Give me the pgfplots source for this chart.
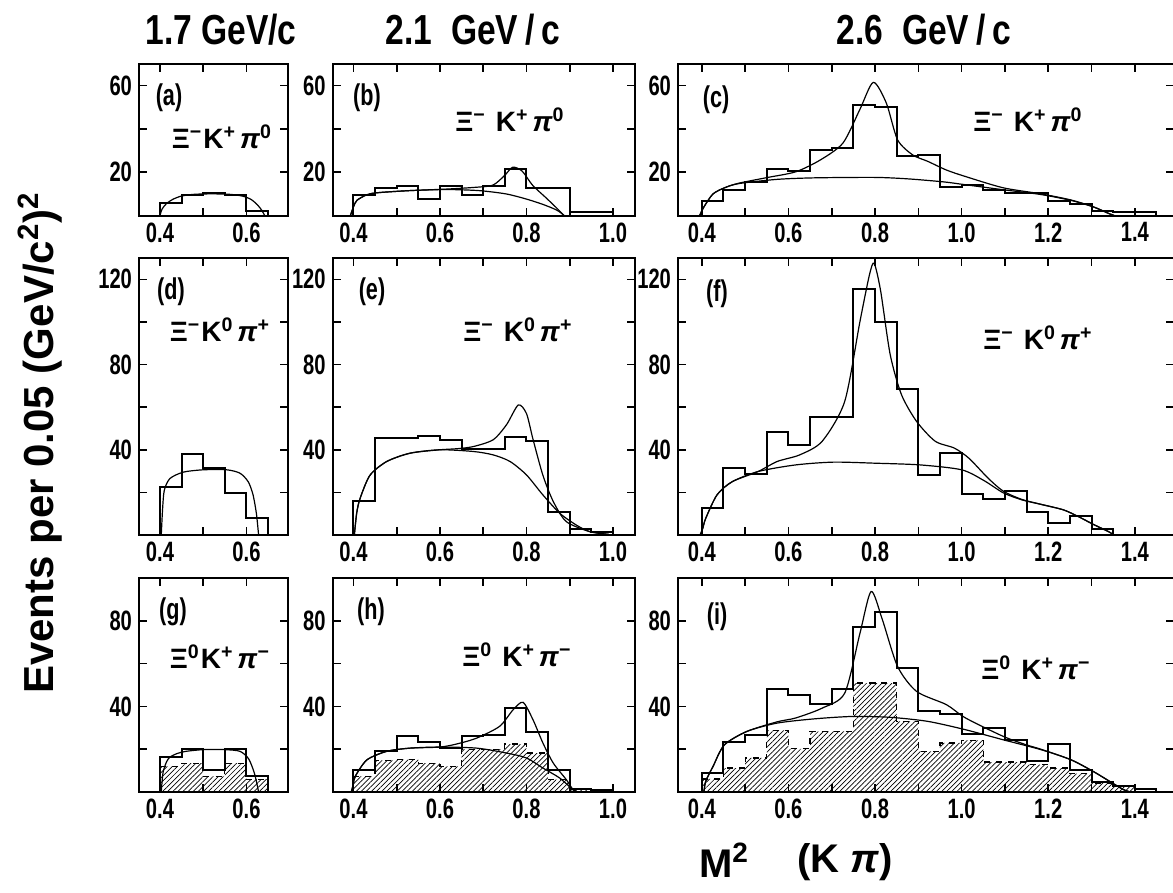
\documentclass[border=0pt]{standalone}
\usepackage{fontspec}
\setmainfont{Liberation Sans}[FakeStretch=0.8]
\newfontfamily\wide{Liberation Sans}
\newfontfamily\tickfont{Liberation Sans}[FakeStretch=0.72]
\usepackage{pgfplots}
\pgfplotsset{compat=1.18}
\usetikzlibrary{patterns.meta}

\pgfplotsset{
  panel/.style={
    scale only axis, anchor=north west, ymin=0,
    axis line style={line width=1pt},
    tick align=inside, major tick length=4pt, minor tick length=4pt,
    every tick/.append style={line width=0.8pt, black},
    xtick={0.4,0.6,...,1.41}, minor xtick={0.5,0.7,...,1.31},
    tick label style={font=\tickfont\bfseries\fontsize{14}{14}\selectfont},
    xticklabel style={/pgf/number format/.cd, fixed, fixed zerofill, precision=1},
    /pgf/number format/assume math mode=true,
  },
  col1/.style={xmin=0.3515, xmax=0.696, width=74.5pt},
  col2/.style={xmin=0.352, xmax=1.05, width=150.95pt},
  col3/.style={xmin=0.345, xmax=1.49, width=247.9pt},
  row1/.style={ymax=70, height=75.75pt, ytick={20,60}, minor ytick={40}},
  row2/.style={ymax=130, height=138.5pt, ytick={40,80,120}, minor ytick={20,60,100}},
  row3/.style={ymax=100, height=107pt, ytick={40,80}, minor ytick={20,60}},
  hist/.style={const plot, line width=1pt, black, mark=none},
  hatch/.style={const plot, draw=black, dashed, line width=0.6pt,
    pattern={Lines[angle=45,distance=1.8pt,line width=0.35pt]}, pattern color=black, mark=none},
  fit/.style={smooth, tension=0.45, line width=0.6pt, black, mark=none},
}
% reaction label: particle, charge, kaon, charge, pion, charge, gap after the first particle
\newcommand{\rx}[7]{{\wide\bfseries\fontsize{14}{14}\selectfont #1\textsuperscript{#2}\hspace{#7}#3\textsuperscript{#4}\hspace{2pt}\textit{#5}\textsuperscript{#6}}}

\begin{document}
\begin{tikzpicture}
\useasboundingbox (0,0) rectangle (586.5pt,-446.5pt);

% ---- row 1 : Xi- K+ pi0
\begin{axis}[panel, col1, row1, at={(69.5pt,-32pt)}]
\addplot[hist] coordinates {(0.40,0) (0.40,6) (0.45,9.5) (0.50,10.5) (0.55,9.5) (0.60,2) (0.65,2) (0.65,0)};
\addplot[fit] coordinates {(0.400,0) (0.405,3) (0.415,5.5) (0.43,7.5) (0.45,9) (0.48,9.8) (0.52,10) (0.56,9.8) (0.59,9) (0.61,7.5) (0.625,5) (0.635,2.5) (0.642,0)};
\end{axis}

\begin{axis}[panel, col2, row1, at={(166.35pt,-32pt)}]
\addplot[hist] coordinates {(0.40,0) (0.40,9.4) (0.45,12.5) (0.50,13.6) (0.55,7.5) (0.60,13.6) (0.65,9.4) (0.70,13.6) (0.75,21.7) (0.80,12.5) (0.85,12.5) (0.90,1.8) (0.95,1.5) (1.00,1.5) (1.00,0)};
\addplot[fit] coordinates {(0.393,0) (0.400,4) (0.408,7) (0.43,9.5) (0.454,10.5) (0.53,11.5) (0.615,12) (0.69,11.5) (0.752,10) (0.798,7.7) (0.837,5.2) (0.870,2.5) (0.887,0)};
\addplot[fit] coordinates {(0.393,0) (0.400,4) (0.408,7) (0.43,9.5) (0.454,10.5) (0.53,11.5) (0.615,12.2) (0.68,13) (0.722,14) (0.749,18.4) (0.768,22.3) (0.79,20.5) (0.814,14) (0.844,8.4) (0.867,4) (0.887,0)};
\end{axis}

\begin{axis}[panel, col3, row1, at={(339pt,-32pt)}]
\addplot[hist] coordinates {(0.40,0) (0.40,6.5) (0.45,11.7) (0.50,15.6) (0.55,21.3) (0.60,20.6) (0.65,30.4) (0.70,31.2) (0.75,51) (0.80,50.3) (0.85,27.3) (0.90,28) (0.95,13.2) (1.00,14) (1.05,11.7) (1.10,10.6) (1.15,10.6) (1.20,6.7) (1.25,5.5) (1.30,2.2) (1.35,1.5) (1.40,1.5) (1.45,1.5) (1.45,0)};
\addplot[fit] coordinates {(0.395,0) (0.405,4) (0.426,10) (0.455,13) (0.487,14.8) (0.574,16.7) (0.661,17.4) (0.8,17.6) (0.878,16.9) (0.96,15.5) (1.009,14.2) (1.096,11.9) (1.183,9.7) (1.252,7) (1.304,4) (1.339,1) (1.352,0)};
\addplot[fit] coordinates {(0.395,0) (0.405,4) (0.426,10) (0.455,13) (0.487,15) (0.55,17.5) (0.617,20.2) (0.674,25.7) (0.726,33.5) (0.765,49) (0.796,61.5) (0.826,52) (0.852,35) (0.887,28) (0.922,25) (0.965,21) (1.009,18) (1.096,12.8) (1.183,10) (1.252,7.2) (1.304,4) (1.339,1) (1.352,0)};
\end{axis}

% ---- row 2 : Xi- K0 pi+
\begin{axis}[panel, col1, row2, at={(69.5pt,-129pt)}]
\addplot[hist] coordinates {(0.40,0) (0.40,22.7) (0.45,38) (0.50,31.4) (0.55,19.6) (0.60,7.8) (0.65,7.8) (0.65,0)};
\addplot[fit] coordinates {(0.403,0) (0.406,12) (0.41,21) (0.423,26.5) (0.454,29.5) (0.5,30.6) (0.554,30.6) (0.585,29) (0.604,25) (0.615,19) (0.623,10) (0.628,0)};
\end{axis}

\begin{axis}[panel, col2, row2, at={(166.35pt,-129pt)}]
\addplot[hist] coordinates {(0.40,0) (0.40,16) (0.45,45.5) (0.50,45.5) (0.55,46.3) (0.60,44.7) (0.65,40.5) (0.70,40.5) (0.75,46) (0.80,43.9) (0.85,11) (0.90,3) (0.95,1.5) (1.00,1.5) (1.00,0)};
\addplot[fit] coordinates {(0.402,0) (0.405,6) (0.408,11) (0.415,17) (0.438,28) (0.477,34.5) (0.531,38.4) (0.6,40) (0.677,39.2) (0.723,37.6) (0.762,34.5) (0.8,28.2) (0.838,18.8) (0.877,10.2) (0.915,4.7) (0.946,1.6) (0.99,0.3)};
\addplot[fit] coordinates {(0.402,0) (0.405,6) (0.408,11) (0.415,17) (0.438,28) (0.477,34.5) (0.531,38.4) (0.6,40) (0.64,40.5) (0.677,41.5) (0.723,44.7) (0.754,51.8) (0.781,61) (0.8,57) (0.815,45) (0.838,28) (0.862,15.7) (0.892,6.3) (0.946,1.6) (0.99,0.3)};
\end{axis}

\begin{axis}[panel, col3, row2, at={(339pt,-129pt)}]
\addplot[hist] coordinates {(0.40,0) (0.40,12.9) (0.45,31.4) (0.50,28.5) (0.55,48.3) (0.60,42.4) (0.65,55.4) (0.70,55.4) (0.75,115.6) (0.80,100) (0.85,68.7) (0.90,28.2) (0.95,38.4) (1.00,19.1) (1.05,17) (1.10,20.7) (1.15,11) (1.20,5.5) (1.25,9.1) (1.30,2.8) (1.35,2.8) (1.35,0)};
\addplot[fit] coordinates {(0.396,0) (0.402,3) (0.409,7.8) (0.435,18.8) (0.47,25) (0.53,29.8) (0.617,32.9) (0.704,34.2) (0.8,33.7) (0.904,32.9) (1.0,30.6) (1.052,25.5) (1.096,19.8) (1.139,16.5) (1.183,14.4) (1.235,11.8) (1.27,8.6) (1.304,5) (1.339,1.6) (1.352,0)};
\addplot[fit] coordinates {(0.396,0) (0.402,3) (0.409,7.8) (0.435,18.8) (0.47,25) (0.53,29.8) (0.574,34.5) (0.626,37.6) (0.678,44) (0.73,62.7) (0.765,100) (0.787,122) (0.798,127.5) (0.813,114.5) (0.835,84.7) (0.861,65.9) (0.896,53.3) (0.939,44) (0.983,40.8) (1.017,36) (1.061,26.7) (1.096,20.6) (1.139,16.7) (1.183,14.4) (1.235,11.8) (1.27,8.6) (1.304,5) (1.339,1.6) (1.352,0)};
\end{axis}

% ---- row 3 : Xi0 K+ pi-
\begin{axis}[panel, col1, row3, at={(69.5pt,-289pt)}]
\addplot[hatch] coordinates {(0.40,12) (0.45,13.5) (0.50,7.3) (0.55,13.5) (0.60,6) (0.65,6)} \closedcycle;
\addplot[hist] coordinates {(0.40,0) (0.40,16.3) (0.45,20) (0.50,10.4) (0.55,20) (0.60,7.5) (0.65,7.5) (0.65,0)};
\addplot[fit] coordinates {(0.403,0) (0.407,9) (0.415,14) (0.423,16.3) (0.44,18) (0.46,19) (0.5,19.8) (0.55,19.8) (0.585,19) (0.605,15.5) (0.618,9) (0.625,3) (0.628,0)};
\end{axis}

\begin{axis}[panel, col2, row3, at={(166.35pt,-289pt)}]
\addplot[hatch] coordinates {(0.40,7.3) (0.45,14.8) (0.50,15.1) (0.55,13.5) (0.60,12) (0.65,20) (0.70,20) (0.75,22.4) (0.80,18.2) (0.85,5.8) (0.90,1) (0.95,1)} \closedcycle;
\addplot[hist] coordinates {(0.40,0) (0.40,10.4) (0.45,19.3) (0.50,26.3) (0.55,23.2) (0.60,20.5) (0.65,26.3) (0.70,26.8) (0.75,39.2) (0.80,27.9) (0.85,10.4) (0.90,1.4) (0.95,1) (1.00,1) (1.00,0)};
\addplot[fit] coordinates {(0.395,0) (0.40,4) (0.404,7.3) (0.431,15) (0.477,19) (0.531,20.5) (0.6,21) (0.685,20.5) (0.754,18.2) (0.8,15.9) (0.838,11.2) (0.877,6.5) (0.908,1) (0.92,0)};
\addplot[fit] coordinates {(0.395,0) (0.40,4) (0.404,7.3) (0.431,15) (0.477,19) (0.531,20.5) (0.6,21) (0.64,22.5) (0.685,25.2) (0.738,30.7) (0.769,38.4) (0.792,41.9) (0.815,33.8) (0.838,22.9) (0.862,13.5) (0.892,5.8) (0.908,1) (0.92,0)};
\end{axis}

\begin{axis}[panel, col3, row3, at={(339pt,-289pt)}]
\addplot[hatch] coordinates {(0.40,6.1) (0.45,11.2) (0.50,15.9) (0.55,28.8) (0.60,20.2) (0.65,28.3) (0.70,28.3) (0.75,50.9) (0.80,50.9) (0.85,33) (0.90,19) (0.95,22.9) (1.00,24.1) (1.05,14) (1.10,14) (1.15,12.8) (1.20,11.2) (1.25,8.6) (1.30,4.2) (1.35,3.1) (1.40,3.1)} \closedcycle;
\addplot[hist] coordinates {(0.40,0) (0.40,8.9) (0.45,23.2) (0.50,26.8) (0.55,48.1) (0.60,45.1) (0.65,41.2) (0.70,48.1) (0.75,77) (0.80,84) (0.85,57.9) (0.90,37.7) (0.95,36.6) (1.00,27.2) (1.05,29.9) (1.10,24.1) (1.15,14.3) (1.20,22.6) (1.25,10.4) (1.30,4.7) (1.35,2.6) (1.40,1.4) (1.45,1.4) (1.45,0)};
\addplot[fit] coordinates {(0.405,0) (0.409,5) (0.426,12) (0.452,22) (0.504,28.3) (0.574,32.2) (0.661,34.2) (0.748,35.3) (0.835,34.9) (0.922,33) (1.009,29.1) (1.096,24.4) (1.183,19.8) (1.252,15.1) (1.304,9.6) (1.348,4.2) (1.374,1.1) (1.39,0)};
\addplot[fit] coordinates {(0.405,0) (0.409,5) (0.426,12) (0.452,22) (0.504,28.3) (0.574,32.8) (0.617,34.6) (0.678,39.2) (0.73,46.2) (0.765,74) (0.791,93.7) (0.817,80.5) (0.852,58.7) (0.896,47) (0.965,40.8) (1.009,34.6) (1.096,26) (1.15,22) (1.183,20) (1.252,15.1) (1.304,9.6) (1.348,4.2) (1.374,1.1) (1.39,0)};
\end{axis}

% ---- panel letters
\begin{scope}[every node/.style={font=\tickfont\bfseries\fontsize{15}{15}\selectfont}]
\node at (84.5pt,-49pt) {(a)};
\node at (183.5pt,-49pt) {(b)};
\node at (358pt,-50pt) {(c)};
\node at (85.5pt,-146pt) {(d)};
\node at (186pt,-146pt) {(e)};
\node at (358.5pt,-147pt) {(f)};
\node at (86.5pt,-306pt) {(g)};
\node at (185.5pt,-306pt) {(h)};
\node at (358.5pt,-308.5pt) {(i)};
\end{scope}

% ---- reaction labels
\node at (111pt,-68.5pt) {\rx{Ξ}{−}{K}{+}{π}{0}{0.5pt}};
\node at (255pt,-60pt) {\rx{Ξ}{−}{K}{+}{π}{0}{5pt}};
\node at (514pt,-60pt) {\rx{Ξ}{−}{K}{+}{π}{0}{5pt}};
\node at (110pt,-165pt) {\rx{Ξ}{−}{K}{0}{π}{+}{0.5pt}};
\node at (259pt,-165pt) {\rx{Ξ}{−}{K}{0}{π}{+}{5pt}};
\node at (519pt,-169pt) {\rx{Ξ}{−}{K}{0}{π}{+}{5pt}};
\node at (110pt,-328.5pt) {\rx{Ξ}{0}{K}{+}{π}{−}{0.5pt}};
\node at (258.5pt,-327.5pt) {\rx{Ξ}{0}{K}{+}{π}{−}{5pt}};
\node at (518pt,-334pt) {\rx{Ξ}{0}{K}{+}{π}{−}{5pt}};

% ---- titles
\begin{scope}[every node/.style={font=\bfseries\fontsize{21}{21}\selectfont}]
\node at (110.5pt,-15pt) {1.7 GeV/c};
\node at (236.5pt,-15pt) {2.1\ \ GeV\,/\,c};
\node at (462pt,-15pt) {2.6\ \ GeV\,/\,c};
\end{scope}

% ---- axis titles
\node[rotate=90, font=\wide\bfseries\fontsize{21}{21}\selectfont] at (20pt,-221.5pt) {Events per 0.05 (GeV/c\textsuperscript{2})\textsuperscript{2}};
\node[font=\wide\bfseries\fontsize{20}{20}\selectfont] at (362pt,-430pt) {M\textsuperscript{2}};
\node[font=\wide\bfseries\fontsize{20}{20}\selectfont] at (422.5pt,-431pt) {(K \textit{π})};
\end{tikzpicture}
\end{document}
